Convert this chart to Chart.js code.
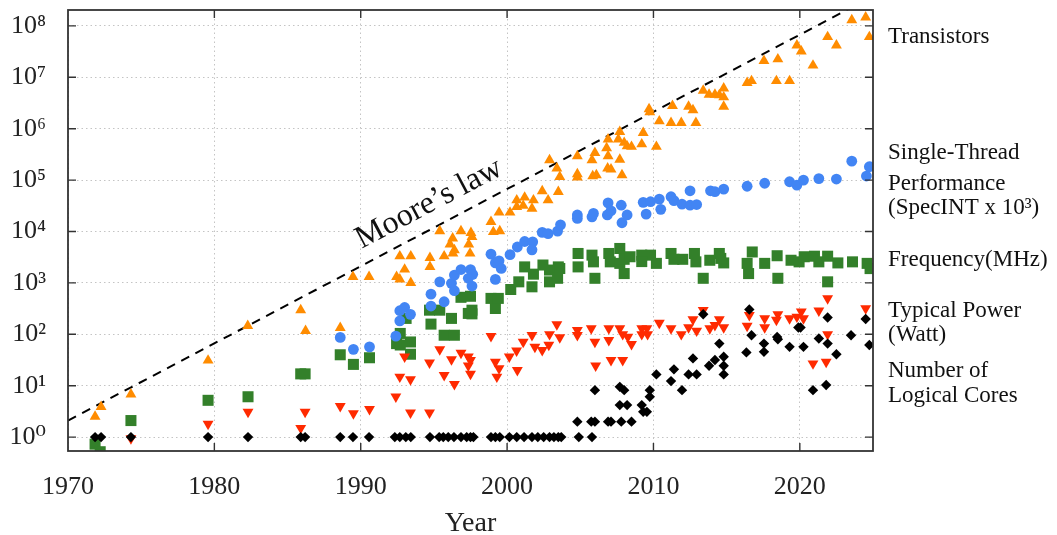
<!DOCTYPE html>
<html>
<head>
<meta charset="utf-8">
<script src="https://cdn.jsdelivr.net/npm/chart.js@4.4.1/dist/chart.umd.min.js"></script>
<style>
  html, body { margin: 0; padding: 0; background: #fff; }
  #wrap { width: 1057px; height: 535px; position: relative; }
</style>
</head>
<body>
<div id="wrap"><canvas id="c" width="1057" height="535"></canvas></div>
<script>
// ---------------- DATA ----------------
const xTicks = [1970, 1980, 1990, 2000, 2010, 2020];
const yTickValues = [1, 10, 100, 1e3, 1e4, 1e5, 1e6, 1e7, 1e8];
const yTickLabels = ['10⁰', '10¹', '10²', '10³', '10⁴', '10⁵', '10⁶', '10⁷', '10⁸'];

const seriesNames = ['Transistors', 'Single-Thread Performance', 'Frequency(MHz)', 'Typical Power (Watt)', 'Number of Logical Cores'];

// Transistors (thousands)
const transYears = [1971.85, 1972.26, 1974.3, 1979.57, 1982.28, 1985.9, 1986.23, 1988.6, 1989.47, 1990.57, 1992.45, 1992.67, 1993.42, 1993.0, 1992.67, 1993.42, 1994.73, 1994.73, 1995.7, 1995.4, 1996.28, 1996.1, 1996.4, 1996.3, 1996.85, 1997.38, 1997.53, 1997.6, 1997.47, 1998.9, 1999.06, 1999.5, 1999.45, 2000.2, 2000.66, 2000.66, 2001.1, 2001.2, 2001.7, 2001.8, 2002.4, 2002.8, 2003.5, 2002.9, 2003.4, 2003.6, 2004.8, 2004.8, 2004.8, 2005.8, 2006.0, 2005.85, 2006.1, 2006.9, 2006.8, 2006.9, 2006.87, 2007.1, 2007.7, 2007.7, 2007.6, 2008.0, 2008.2, 2008.5, 2007.85, 2009.3, 2009.2, 2010.2, 2009.7, 2009.75, 2010.4, 2011.3, 2011.2, 2011.9, 2012.4, 2012.7, 2012.9, 2013.4, 2013.8, 2014.2, 2014.5, 2014.8, 2014.8, 2014.8, 2016.4, 2016.7, 2017.55, 2018.5, 2018.4, 2019.3, 2019.8, 2020.1, 2020.9, 2021.9, 2022.5, 2023.55, 2024.5, 2024.75];
const transValues = [2.5, 3.9, 6.8, 31, 146, 295, 117, 134, 1310, 1310, 1310, 1170, 1000, 1830, 3310, 3310, 3090, 2050, 3310, 10200, 7360, 5650, 4360, 3740, 10200, 5650, 9400, 7900, 3740, 15500, 9800, 10200, 23500, 23500, 40700, 30200, 31800, 46000, 28000, 40700, 61000, 40700, 59000, 245000, 169000, 116000, 293000, 131000, 113000, 245000, 340000, 120000, 125000, 620000, 420000, 293000, 169000, 162000, 870000, 252000, 620000, 535000, 457000, 447000, 125000, 830000, 500000, 447000, 2.4e6, 2.1e6, 1.4e6, 2.8e6, 1.3e6, 1.3e6, 2.7e6, 2.3e6, 1.3e6, 5.5e6, 4.6e6, 4.6e6, 4.5e6, 6.1e6, 4.1e6, 2.7e6, 7.8e6, 8.5e6, 2.1e7, 2.25e7, 8.5e6, 8.5e6, 4.2e7, 3.2e7, 1.7e7, 6.1e7, 4.2e7, 1.3e8, 1.47e8, 6.1e7];

// Single-thread performance (SpecINT x 10^3)
const perfYears = [1988.6, 1989.5, 1990.6, 1992.4, 1992.67, 1992.67, 1993.0, 1993.4, 1994.8, 1994.8, 1995.7, 1995.4, 1996.2, 1996.4, 1996.4, 1996.85, 1997.5, 1997.65, 1997.35, 1997.6, 1998.9, 1999.2, 1999.45, 1999.6, 1999.2, 2000.2, 2000.7, 2001.2, 2001.75, 2001.7, 2002.4, 2002.8, 2003.45, 2003.65, 2004.8, 2004.8, 2005.8, 2005.9, 2006.9, 2006.85, 2007.1, 2007.8, 2007.85, 2008.2, 2009.3, 2009.5, 2009.8, 2010.4, 2010.5, 2011.2, 2011.4, 2011.95, 2012.5, 2012.5, 2012.95, 2013.9, 2014.2, 2014.8, 2016.4, 2017.6, 2019.3, 2019.8, 2020.25, 2021.3, 2022.5, 2023.55, 2024.55, 2024.75];
const perfValues = [87, 51, 57, 92, 183, 288, 333, 245, 355, 605, 430, 1050, 980, 1420, 705, 1820, 1820, 1470, 1230, 870, 3630, 2450, 2690, 1910, 1170, 3550, 5000, 6400, 6300, 4400, 9600, 9100, 10200, 13500, 21000, 18000, 19300, 22500, 36000, 21000, 25300, 32500, 14800, 21000, 37000, 21800, 38000, 42700, 27000, 47500, 40000, 34000, 62000, 32500, 33500, 62000, 59500, 67000, 76000, 87000, 93000, 80000, 100000, 107000, 105000, 234000, 120000, 182000];

// Frequency (MHz)
const freqYears = [1971.85, 1972.2, 1974.3, 1979.57, 1982.3, 1985.9, 1986.2, 1988.6, 1989.5, 1990.6, 1992.45, 1992.7, 1992.7, 1993.4, 1993.4, 1993.1, 1994.7, 1994.8, 1995.4, 1996.2, 1995.7, 1996.4, 1996.85, 1997.5, 1997.35, 1997.6, 1997.6, 1998.9, 1999.2, 1999.4, 2000.25, 2000.8, 2001.2, 2001.8, 2001.7, 2002.45, 2002.9, 2002.9, 2003.5, 2003.45, 2003.6, 2004.85, 2004.85, 2005.8, 2005.9, 2006.0, 2006.95, 2007.05, 2007.7, 2007.7, 2008.0, 2008.0, 2008.4, 2009.2, 2009.8, 2009.2, 2010.2, 2011.2, 2011.4, 2012.0, 2012.8, 2012.9, 2013.4, 2013.85, 2014.5, 2014.8, 2014.6, 2016.4, 2016.5, 2016.75, 2017.6, 2018.45, 2018.5, 2019.4, 2019.95, 2020.3, 2021.0, 2021.3, 2021.9, 2021.9, 2022.6, 2023.6, 2024.6, 2024.8];
const freqValues = [0.73, 0.52, 2.1, 5.2, 6.1, 17, 17, 40, 26, 35, 66, 104, 62, 71, 41, 204, 295, 158, 295, 204, 96, 96, 525, 550, 255, 295, 250, 500, 318, 500, 745, 1050, 2050, 1480, 840, 2230, 1780, 1050, 2050, 1230, 1910, 3740, 2050, 3470, 2570, 1230, 3740, 2570, 4680, 2400, 1520, 2880, 3230, 3470, 3470, 2600, 2400, 3740, 2880, 2880, 3740, 2570, 1230, 2760, 3740, 2450, 3000, 2400, 1520, 4000, 2400, 3380, 1230, 2760, 2570, 3230, 3310, 2570, 3310, 1050, 2450, 2570, 2400, 1900];

// Typical power (Watt)
const powerYears = [1974.3, 1979.57, 1982.3, 1985.9, 1986.2, 1988.6, 1989.5, 1990.6, 1992.4, 1992.67, 1993.4, 1993.0, 1993.4, 1994.7, 1994.7, 1995.4, 1995.7, 1996.2, 1996.4, 1996.85, 1997.35, 1997.5, 1997.35, 1997.5, 1998.9, 1999.2, 1999.45, 1999.3, 2000.15, 2000.65, 2000.7, 2001.1, 2001.7, 2001.9, 2002.4, 2002.9, 2002.85, 2003.4, 2003.6, 2004.8, 2004.8, 2005.75, 2006.0, 2006.05, 2006.95, 2006.95, 2007.1, 2007.7, 2007.9, 2007.9, 2008.25, 2008.5, 2009.2, 2009.2, 2009.55, 2009.6, 2010.4, 2011.2, 2011.9, 2012.4, 2012.7, 2012.95, 2013.4, 2013.85, 2014.2, 2014.5, 2014.8, 2016.4, 2016.55, 2017.6, 2017.6, 2018.5, 2018.4, 2019.3, 2019.8, 2020.1, 2020.25, 2020.9, 2021.3, 2021.8, 2021.9, 2021.9, 2024.5];
const powerValues = [0.94, 1.8, 3.1, 1.5, 3.1, 4.0, 2.9, 3.5, 6.1, 14.9, 13.2, 36.6, 3.0, 3.0, 28, 51, 16, 32.5, 10.7, 43.6, 36.6, 31.5, 24.5, 17, 92, 29, 21.7, 14.9, 36.6, 48, 20, 71, 96, 57, 49, 100, 62, 156, 87, 120, 96, 130, 71, 24.5, 130, 77, 31.5, 130, 100, 31.5, 89, 64.5, 130, 100, 130, 100, 167, 130, 100, 136, 195, 117, 295, 130, 150, 195, 136, 145, 235, 204, 136, 245, 190, 204, 219, 275, 204, 27, 288, 29, 500, 100, 318];

// Number of logical cores
const coreYears = [1971.85, 1972.26, 1974.3, 1979.57, 1982.3, 1985.9, 1986.2, 1988.6, 1989.47, 1990.57, 1992.33, 1992.67, 1993.08, 1993.42, 1994.73, 1995.36, 1995.64, 1995.98, 1996.37, 1996.85, 1997.24, 1997.5, 1997.7, 1998.9, 1999.2, 1999.5, 2000.16, 2000.66, 2001.16, 2001.7, 2002.1, 2002.5, 2002.9, 2003.2, 2003.5, 2003.7, 2004.9, 2005.8, 2004.8, 2005.75, 2006.0, 2006.9, 2007.1, 2007.8, 2008.5, 2006.0, 2007.7, 2008.0, 2007.7, 2008.2, 2009.2, 2009.3, 2009.55, 2009.75, 2009.75, 2010.2, 2011.2, 2011.4, 2011.95, 2012.4, 2012.95, 2012.7, 2013.4, 2013.8, 2014.2, 2014.5, 2014.8, 2014.8, 2014.8, 2016.35, 2016.55, 2016.7, 2017.55, 2017.55, 2018.45, 2018.5, 2019.3, 2019.9, 2020.05, 2020.25, 2020.9, 2021.3, 2021.8, 2021.9, 2021.9, 2022.5, 2023.5, 2024.5, 2024.75];
const coreValues = [1, 1, 1, 1, 1, 1, 1, 1, 1, 1, 1, 1, 1, 1, 1, 1, 1, 1, 1, 1, 1, 1, 1, 1, 1, 1, 1, 1, 1, 1, 1, 1, 1, 1, 1, 1, 1, 1, 2, 2, 2, 2, 2, 2, 2, 8.2, 9.5, 8.2, 4.2, 4.2, 4.2, 3.1, 3.1, 6.1, 8.2, 16.6, 12.3, 20.8, 8.2, 16.6, 16.6, 34, 245, 24.5, 31.6, 66, 36.6, 24.5, 16.6, 44.5, 303, 96, 66, 45.6, 89, 80, 57, 136, 136, 57, 8.2, 83, 10.3, 213, 66, 41, 96, 198, 62];

// Moore's law reference line (two end points)
const mooreYears = [1970, 2025];
const mooreValues = [2.1, 3.8e8];

// Right-hand labels
const sideLabelLines = ['Transistors', 'Single-Thread', 'Performance', '(SpecINT x 10³)', 'Frequency(MHz)', 'Typical Power', '(Watt)', 'Number of', 'Logical Cores'];

// ---------------- CHART ----------------
const pts = (xs, ys) => xs.map((x, i) => ({ x: x, y: ys[i] }));
const serif = "'Liberation Serif', 'DejaVu Serif', serif";

const framePlugin = {
  id: 'frame',
  afterDraw(chart) {
    const ctx = chart.ctx;
    const { left, right, top, bottom } = chart.chartArea;
    const xs = chart.scales.x, ys = chart.scales.y;
    ctx.save();
    ctx.strokeStyle = '#333';
    ctx.lineWidth = 1.4;
    ctx.beginPath();
    xTicks.forEach(v => {
      const px = xs.getPixelForValue(v);
      if (px <= left + 1 || px >= right - 1) return;
      ctx.moveTo(px, bottom); ctx.lineTo(px, bottom - 8);
      ctx.moveTo(px, top); ctx.lineTo(px, top + 8);
    });
    yTickValues.forEach(v => {
      const py = ys.getPixelForValue(v);
      ctx.moveTo(left, py); ctx.lineTo(left + 8, py);
      ctx.moveTo(right, py); ctx.lineTo(right - 8, py);
    });
    ctx.stroke();
    ctx.lineWidth = 1.8;
    ctx.strokeRect(left, top, right - left, bottom - top);

    // Moore's law label, parallel to the dashed line
    const x1 = xs.getPixelForValue(mooreYears[0]), y1 = ys.getPixelForValue(mooreValues[0]);
    const x2 = xs.getPixelForValue(mooreYears[1]), y2 = ys.getPixelForValue(mooreValues[1]);
    const ang = Math.atan2(y2 - y1, x2 - x1);
    const tx = 440;
    const ty = y1 + (y2 - y1) * (tx - x1) / (x2 - x1);
    ctx.translate(tx, ty);
    ctx.rotate(ang);
    ctx.fillStyle = '#111';
    ctx.font = "32px " + serif;
    ctx.textAlign = 'center';
    ctx.textBaseline = 'alphabetic';
    ctx.fillText("Moore’s law", 0, -15);
    ctx.restore();

    // side labels
    const baselines = [43, 159, 190, 214, 266, 317, 341, 377, 402];
    ctx.save();
    ctx.fillStyle = '#111';
    ctx.font = "23px " + serif;
    ctx.textAlign = 'left';
    ctx.textBaseline = 'alphabetic';
    sideLabelLines.forEach((t, i) => ctx.fillText(t, 888, baselines[i]));
    ctx.restore();
  }
};

new Chart(document.getElementById('c'), {
  type: 'scatter',
  data: {
    datasets: [
      { label: seriesNames[4], data: pts(coreYears, coreValues), pointStyle: 'rectRot', pointRadius: 5.2,
        pointBackgroundColor: '#000', pointBorderColor: '#000', pointBorderWidth: 0 },
      { label: seriesNames[3], data: pts(powerYears, powerValues), pointStyle: 'triangle', pointRotation: 180, pointRadius: 6.3,
        pointBackgroundColor: '#ff2a00', pointBorderColor: '#ff2a00', pointBorderWidth: 0 },
      { label: seriesNames[1], data: pts(perfYears, perfValues), pointStyle: 'circle', pointRadius: 5.4,
        pointBackgroundColor: '#4285f4', pointBorderColor: '#4285f4', pointBorderWidth: 0 },
      { label: seriesNames[2], data: pts(freqYears, freqValues), pointStyle: 'rect', pointRadius: 7.8,
        pointBackgroundColor: '#33802a', pointBorderColor: '#33802a', pointBorderWidth: 0 },
      { label: seriesNames[0], data: pts(transYears, transValues), pointStyle: 'triangle', pointRadius: 6.3,
        pointBackgroundColor: '#ff8c00', pointBorderColor: '#ff8c00', pointBorderWidth: 0 },
      { type: 'line', label: "Moore's law", data: pts(mooreYears, mooreValues), borderColor: '#000', borderWidth: 2,
        borderDash: [9, 7], pointRadius: 0, fill: false, tension: 0, showLine: true }
    ]
  },
  options: {
    responsive: false,
    animation: false,
    devicePixelRatio: 1,
    layout: { padding: { left: 0, right: 184, top: 10, bottom: 0 } },
    plugins: { legend: { display: false }, tooltip: { enabled: false } },
    scales: {
      x: {
        type: 'linear', min: 1970, max: 2025,
        afterBuildTicks: s => { s.ticks = xTicks.map(v => ({ value: v })); },
        afterFit: s => { s.height = 84; s.paddingLeft = 0; s.paddingRight = 0; },
        grid: { color: '#c4c4c4', lineWidth: 1, drawTicks: false },
        border: { display: false, dash: [1.5, 3] },
        ticks: { font: { family: serif, size: 26 }, color: '#222', padding: 21, maxRotation: 0,
          callback: v => String(v) },
        title: { display: true, text: 'Year', color: '#222', font: { family: serif, size: 28, lineHeight: 0.8 },
          padding: { top: 0, bottom: 0 } }
      },
      y: {
        type: 'logarithmic', min: 0.537, max: 2.04e8,
        afterBuildTicks: s => { s.ticks = yTickValues.map(v => ({ value: v })); },
        afterFit: s => { s.width = 68; s.paddingTop = 0; s.paddingBottom = 0; },
        grid: { color: '#c4c4c4', lineWidth: 1, drawTicks: false },
        border: { display: false, dash: [1.5, 3] },
        ticks: { font: { family: serif, size: 26 }, color: '#222', padding: 22,
          callback: (v, i) => yTickLabels[i] }
      }
    }
  },
  plugins: [framePlugin]
});
</script>
</body>
</html>
